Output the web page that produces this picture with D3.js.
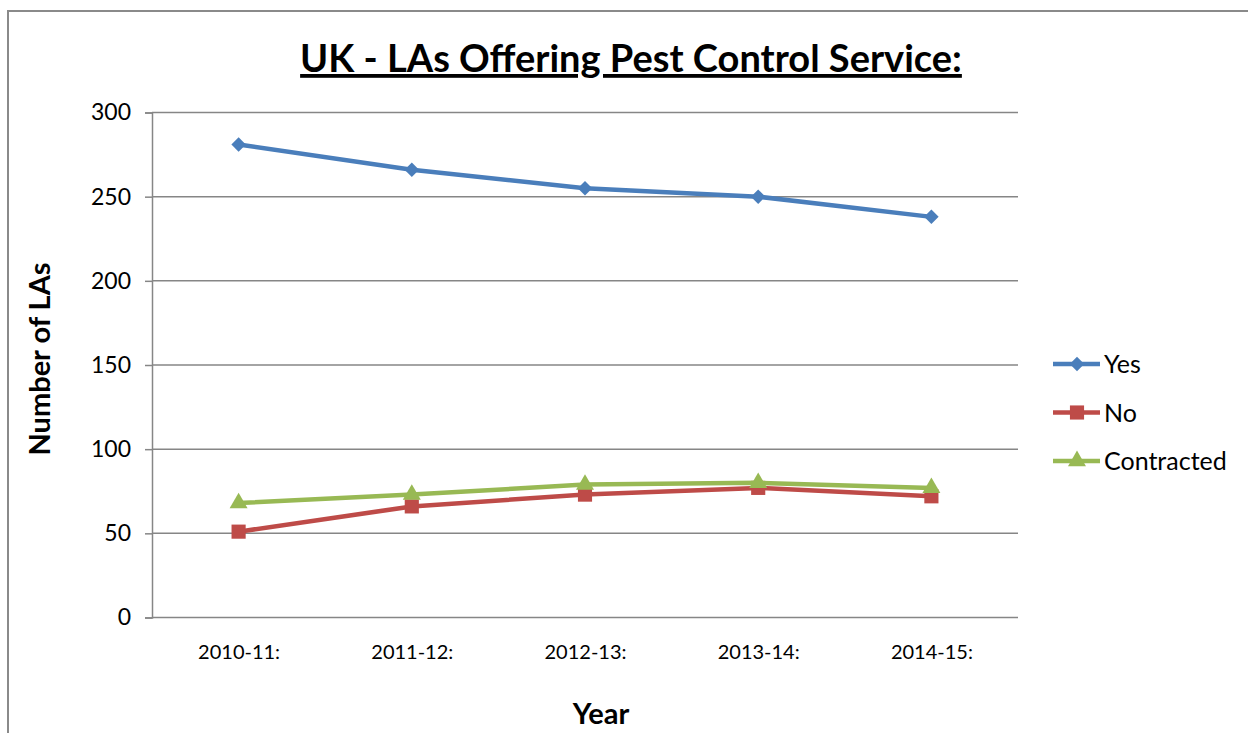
<!DOCTYPE html>
<html>
<head>
<meta charset="utf-8">
<script src="https://cdn.jsdelivr.net/npm/d3@7"></script>
<style>
  body { margin: 0; background: #fff; }
  text { font-family: Lato, "Open Sans", sans-serif; fill: #000; }
</style>
</head>
<body>
<div id="chart"></div>
<script>
// Chart data
const years = ["2010-11:", "2011-12:", "2012-13:", "2013-14:", "2014-15:"];
const yesValues = [281, 266, 255, 250, 238];
const noValues = [51, 66, 73, 77, 72];
const contractedValues = [68, 73, 79, 80, 77];
const yTicks = [0, 50, 100, 150, 200, 250, 300];
const seriesNames = ["Yes", "No", "Contracted"];

const width = 1248;
const height = 733;
const plot = { left: 152, right: 1018, top: 112.5, bottom: 617.5 };

const svg = d3.select("#chart").append("svg")
    .attr("width", width)
    .attr("height", height);

// outer frame (clipped by the window on right and bottom)
svg.append("rect")
    .attr("x", 8).attr("y", 11)
    .attr("width", 1260).attr("height", 740)
    .attr("fill", "none")
    .attr("stroke", "#8a8a8a")
    .attr("stroke-width", 2);

const x = d3.scalePoint()
    .domain(years)
    .range([plot.left, plot.right])
    .padding(0.5);

const y = d3.scaleLinear()
    .domain([0, 300])
    .range([plot.bottom, plot.top]);

// gridlines
svg.append("g")
    .selectAll("line")
    .data(yTicks)
    .enter()
    .append("line")
    .attr("x1", plot.left)
    .attr("x2", plot.right)
    .attr("y1", d => y(d))
    .attr("y2", d => y(d))
    .attr("stroke", "#868686")
    .attr("stroke-width", 1.5);

// y axis
const yAxis = svg.append("g")
    .attr("transform", `translate(${plot.left},0)`)
    .call(d3.axisLeft(y).tickValues(yTicks).tickSize(7).tickPadding(14));
yAxis.select(".domain").attr("stroke", "#868686").attr("stroke-width", 1.5);
yAxis.selectAll(".tick line").attr("stroke", "#868686").attr("stroke-width", 1.5);
yAxis.selectAll(".tick text")
    .style("font-size", "23px")
    .attr("fill", "#000");

// x axis labels
const xAxis = svg.append("g")
    .attr("transform", `translate(0,${plot.bottom})`)
    .call(d3.axisBottom(x).tickSize(0).tickPadding(27));
xAxis.select(".domain").remove();
xAxis.selectAll(".tick text")
    .style("font-size", "20px")
    .attr("fill", "#000");

// series
const series = [
    { name: seriesNames[0], values: yesValues, color: "#4a7ebb", marker: d3.symbolSquare, size: 105, rotate: 45 },
    { name: seriesNames[1], values: noValues, color: "#be4b48", marker: d3.symbolSquare, size: 200, rotate: 0 },
    { name: seriesNames[2], values: contractedValues, color: "#98b954", marker: d3.symbolTriangle, size: 140, rotate: 0 }
];

const line = d3.line()
    .x((d, i) => x(years[i]))
    .y(d => y(d));

series.forEach(s => {
    svg.append("path")
        .datum(s.values)
        .attr("d", line)
        .attr("fill", "none")
        .attr("stroke", s.color)
        .attr("stroke-width", 4.5)
        .attr("stroke-linejoin", "round");

    svg.append("g")
        .selectAll("path")
        .data(s.values)
        .enter()
        .append("path")
        .attr("d", d3.symbol().type(s.marker).size(s.size))
        .attr("transform", (d, i) => `translate(${x(years[i])},${y(d)}) rotate(${s.rotate})`)
        .attr("fill", s.color);
});

// legend
const legend = svg.append("g")
    .attr("transform", "translate(1053,364)");
series.forEach((s, i) => {
    const g = legend.append("g").attr("transform", `translate(0,${i * 48.5})`);
    g.append("line")
        .attr("x1", 0).attr("x2", 47)
        .attr("stroke", s.color).attr("stroke-width", 4.5);
    g.append("path")
        .attr("d", d3.symbol().type(s.marker).size(s.size))
        .attr("transform", `translate(24,0) rotate(${s.rotate})`)
        .attr("fill", s.color);
    g.append("text")
        .attr("x", 51)
        .attr("dy", "0.36em")
        .style("font-size", "25px")
        .text(s.name);
});

// title
svg.append("text")
    .attr("x", 631)
    .attr("y", 72)
    .attr("text-anchor", "middle")
    .style("font-size", "38px")
    .style("font-weight", "bold")
    .style("text-decoration", "underline")
    .text("UK - LAs Offering Pest Control Service:");

// axis titles
svg.append("text")
    .attr("x", 601)
    .attr("y", 724)
    .attr("text-anchor", "middle")
    .style("font-size", "29px")
    .style("font-weight", "bold")
    .text("Year");

svg.append("text")
    .attr("transform", "translate(50,359) rotate(-90)")
    .attr("text-anchor", "middle")
    .style("font-size", "29px")
    .style("font-weight", "bold")
    .text("Number of LAs");
</script>
</body>
</html>
